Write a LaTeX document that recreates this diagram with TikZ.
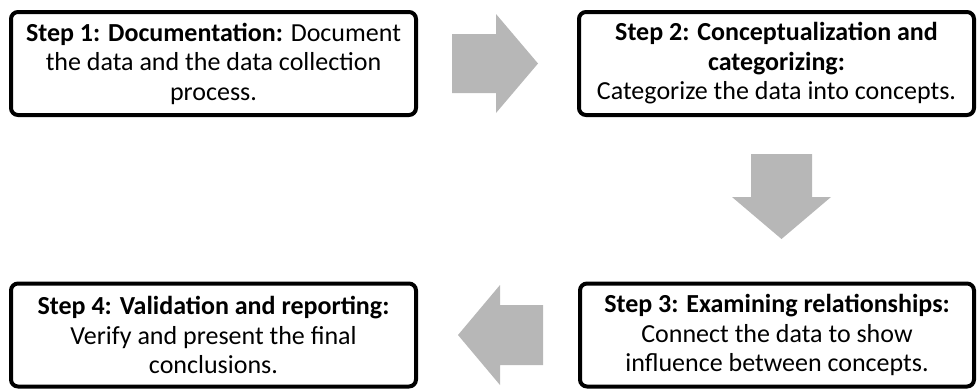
\documentclass[tikz,border=0pt]{standalone}
\usepackage{fontspec}
\setmainfont{Carlito}
\definecolor{arrowgray}{RGB}{183,183,183}
\begin{document}
\begin{tikzpicture}[x=1pt,y=-1pt,
  stepbox/.style={draw=black, line width=4pt, rounded corners=7pt, fill=white,
    minimum width=405pt, minimum height=103pt, align=center, inner sep=0pt,
    font=\fontsize{26}{29.5}\selectfont},
  blockarrow/.style={fill=arrowgray, draw=none}]
\useasboundingbox (0,0) rectangle (977,389);

% step boxes
\node[stepbox] (s1) at (213.5,63.5)
  {\textbf{Step 1: Documentation:} Document\\the data and the data collection\\process.};
\node[stepbox, minimum width=395pt] (s2) at (776.5,63.5)
  {\textbf{Step 2: Conceptualization and}\\\textbf{categorizing:}\\Categorize the data into concepts.};
\node[stepbox, minimum width=394pt] (s3) at (777,335)
  {\textbf{Step 3: Examining relationships:}\\Connect the data to show\\influence between concepts.};
\node[stepbox] (s4) at (213.5,335)
  {\textbf{Step 4: Validation and reporting:}\\Verify and present the final\\conclusions.};

% block arrows between the steps
\fill[blockarrow] (452,34) -- (496,34) -- (496,14) -- (538,63.5) -- (496,113)
  -- (496,93) -- (452,93) -- cycle;
\fill[blockarrow] (751,154) -- (812,154) -- (812,197) -- (831,197) -- (781.5,239)
  -- (732,197) -- (751,197) -- cycle;
\fill[blockarrow] (543,305) -- (500,305) -- (500,285) -- (458,335) -- (500,385)
  -- (500,365) -- (543,365) -- cycle;
\end{tikzpicture}
\end{document}
